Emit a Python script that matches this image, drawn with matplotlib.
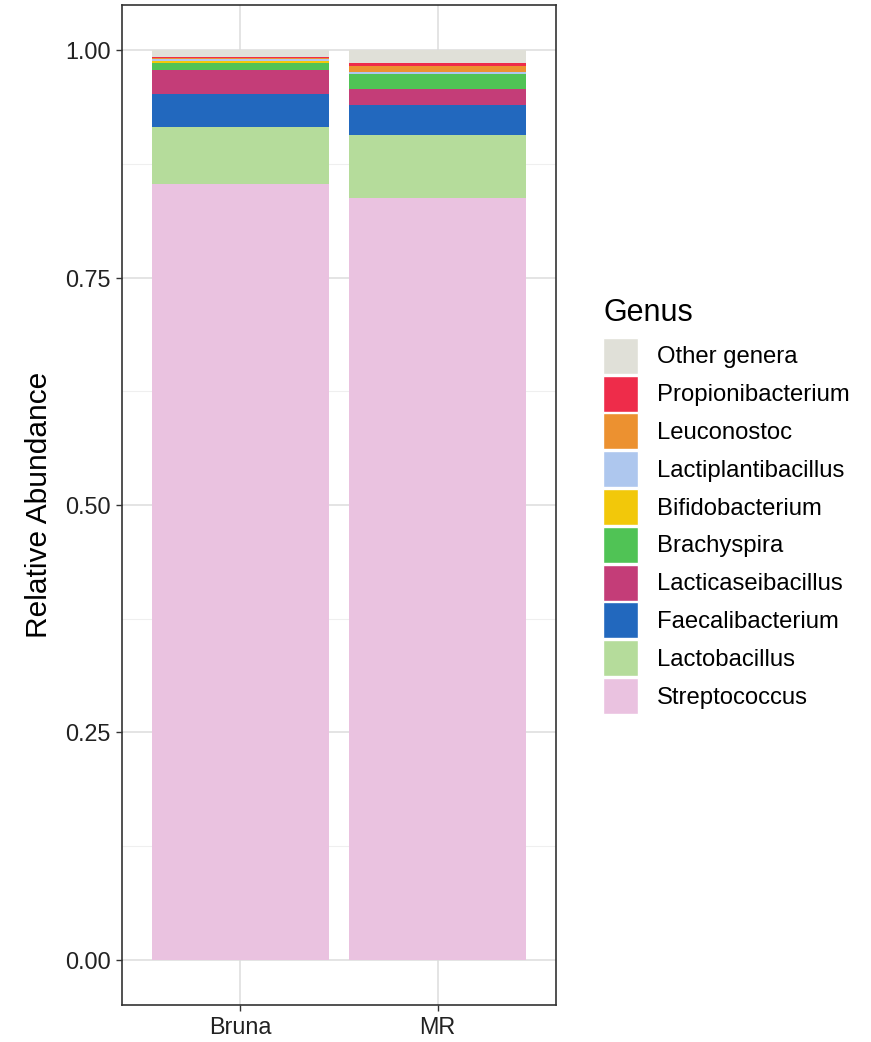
import numpy as np
import matplotlib
matplotlib.use('Agg')
import matplotlib.pyplot as plt
from matplotlib.patches import Patch
from matplotlib.ticker import MultipleLocator

plt.rcParams['font.family'] = ['Liberation Sans', 'DejaVu Sans']

samples = ['Bruna', 'MR']

# stacking order, bottom to top
genera = ['Streptococcus', 'Lactobacillus', 'Faecalibacterium', 'Lacticaseibacillus',
          'Brachyspira', 'Bifidobacterium', 'Lactiplantibacillus', 'Leuconostoc',
          'Propionibacterium', 'Other genera']

bruna = [0.853, 0.063, 0.036, 0.026, 0.008, 0.002, 0.003, 0.001, 0.0003, 0.0077]
mr = [0.838, 0.069, 0.033, 0.018, 0.016, 0.0005, 0.0015, 0.007, 0.0033, 0.0137]

colors = ['#EAC2E0', '#B5DC9B', '#2268BE', '#C43D78', '#50C355',
          '#F2C80A', '#AEC7EE', '#EC9130', '#EE2C4A', '#E0E0D8']

W, H = 871, 1042
fig = plt.figure(figsize=(W / 100, H / 100), dpi=100)
ax = fig.add_axes([122 / W, 1 - 1005 / H, (556 - 122) / W, (1005 - 5) / H])

x = np.arange(1, len(samples) + 1)
values = np.array([bruna, mr]).T
bottom = np.zeros(len(samples))
for name, vals, col in zip(genera, values, colors):
    ax.bar(x, vals, width=0.9, bottom=bottom, color=col, label=name, zorder=2)
    bottom += vals

ax.set_xlim(0.4, 2.6)
ax.set_ylim(-0.05, 1.05)
ax.set_xticks(x)
ax.set_xticklabels(samples)
ax.yaxis.set_minor_locator(MultipleLocator(0.125))
ax.set_yticks([0, 0.25, 0.5, 0.75, 1.0])
ax.set_yticklabels(['0.00', '0.25', '0.50', '0.75', '1.00'])

ax.grid(which='major', color='#DCDCDC', linewidth=1.1, zorder=0)
ax.grid(which='minor', axis='y', color='#EFEFEF', linewidth=0.8, zorder=0)
ax.set_axisbelow(True)
ax.tick_params(which='minor', length=0)
ax.tick_params(which='major', length=4, width=1, color='#333333',
               labelsize=16.8, labelcolor='#222222', pad=4)
for sp in ax.spines.values():
    sp.set_color('#333333')
    sp.set_linewidth(1.2)

ax.set_ylabel('Relative Abundance', fontsize=21.5, labelpad=9)

handles = [Patch(facecolor=c, edgecolor='white', linewidth=1) for c in colors[::-1]]
leg = fig.legend(handles, genera[::-1], title='Genus', loc='upper left',
                 bbox_to_anchor=(603 / W, 1 - 298 / H), frameon=False,
                 fontsize=17.2, title_fontsize=22, handlelength=1.45,
                 handleheight=1.95, labelspacing=0.07, handletextpad=0.8,
                 borderpad=0, borderaxespad=0)
leg._legend_box.align = 'left'
leg._legend_box.sep = 7

fig.savefig('out.png', dpi=100)
